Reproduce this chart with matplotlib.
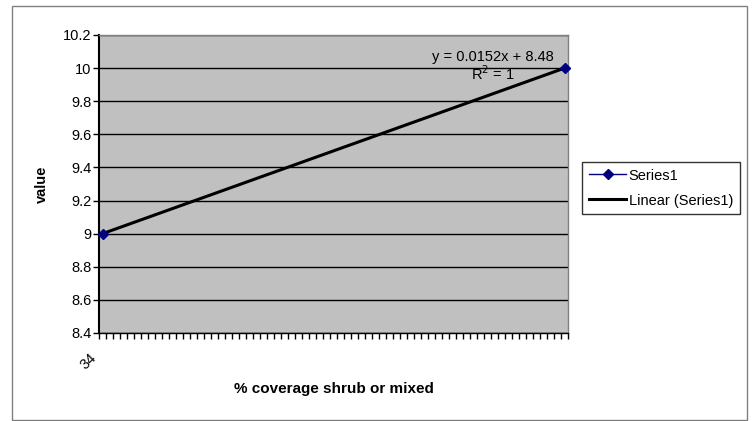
import numpy as np
import matplotlib
matplotlib.use("Agg")
import matplotlib.pyplot as plt
from matplotlib.patches import Rectangle
from matplotlib.lines import Line2D

# category axis runs over every integer coverage value
first_category = 34
last_category = 100
categories = list(range(first_category, last_category + 1))

# observed points of Series1
x_values = [34, 100]
y_values = [9.0, 10.0]

y_ticks = [8.4, 8.6, 8.8, 9.0, 9.2, 9.4, 9.6, 9.8, 10.0, 10.2]
y_tick_labels = ["8.4", "8.6", "8.8", "9", "9.2", "9.4", "9.6", "9.8", "10", "10.2"]
x_label_shown = ["34"]

plt.rcParams["font.family"] = ["Liberation Sans", "DejaVu Sans"]
FS = 10.5

fig = plt.figure(figsize=(7.55, 4.21), dpi=100)
fig.patch.set_facecolor("white")
fig.patches.append(Rectangle((12 / 755, 1 / 421), 735 / 755, 414 / 421,
                             transform=fig.transFigure, fill=False,
                             edgecolor="#808080", linewidth=1.0))

ax = fig.add_axes([99 / 755, 1 - 333 / 421, 469 / 755, 298 / 421])
ax.set_facecolor("#C0C0C0")

# linear trendline fitted on the observed points
slope, intercept = np.polyfit(x_values, y_values, 1)
pred = np.polyval([slope, intercept], x_values)
ss_res = np.sum((np.array(y_values) - pred) ** 2)
ss_tot = np.sum((np.array(y_values) - np.mean(y_values)) ** 2)
r2 = 1 - ss_res / ss_tot
trend_x = np.array([min(x_values), max(x_values)])
trend_y = slope * trend_x + intercept

ax.plot(x_values, y_values, color="#000080", linewidth=1.0, zorder=3)
ax.plot(trend_x, trend_y, color="black", linewidth=2.2, zorder=4)
ax.plot(x_values, y_values, linestyle="none", marker="D", markersize=5.5,
        color="#000080", zorder=5, clip_on=False)

ax.set_xlim(first_category - 0.5, last_category + 0.5)
ax.set_ylim(y_ticks[0], y_ticks[-1])

ax.set_yticks(y_ticks)
ax.set_yticklabels(y_tick_labels, fontsize=FS)
ax.yaxis.grid(True, color="black", linewidth=1.0)
ax.set_axisbelow(True)

# tick marks sit between categories; only the first label is printed
ax.set_xticks([c - 0.5 for c in categories] + [last_category + 0.5])
ax.set_xticklabels([])
for cat, lbl in zip(categories, x_label_shown):
    ax.annotate(lbl, xy=(cat, 0), xycoords=ax.get_xaxis_transform(),
                xytext=(-9.8, -12.5), textcoords="offset points",
                rotation=45, ha="right", va="top", rotation_mode="anchor",
                fontsize=FS, annotation_clip=False)
ax.tick_params(axis="x", which="major", direction="out", length=4,
               width=1, color="black")
ax.tick_params(axis="y", direction="out", length=4, width=1, color="black",
               pad=1.5)

for side in ("top", "right"):
    ax.spines[side].set_color("#808080")
    ax.spines[side].set_linewidth(1.0)
ax.spines["left"].set_color("black")
ax.spines["left"].set_linewidth(1.5)
ax.spines["bottom"].set_color("black")
ax.spines["bottom"].set_linewidth(1.0)

ax.set_ylabel("value", fontsize=FS, fontweight="bold", labelpad=10)
fig.text(333.5 / 755, 1 - 389 / 421, "% coverage shrub or mixed",
         ha="center", va="center", fontsize=11, fontweight="bold")

eq = f"y = {slope:.4f}x + {intercept:.2f}"
fig.text(493 / 755, 1 - 57 / 421, eq, ha="center", va="center", fontsize=FS)
fig.text(493 / 755, 1 - 74 / 421, f"R$^2$ = {r2:.0f}", ha="center",
         va="center", fontsize=FS)

handles = [
    Line2D([], [], color="#000080", linewidth=1.0, marker="D", markersize=5.5),
    Line2D([], [], color="black", linewidth=2.2),
]
leg = fig.legend(handles, ["Series1", "Linear (Series1)"],
                 loc="upper left", bbox_to_anchor=(582 / 755, 1 - 162 / 421),
                 fontsize=FS, frameon=True, fancybox=False,
                 handlelength=2.6, handletextpad=0.15, borderpad=0.45,
                 labelspacing=0.75, borderaxespad=0)
leg.get_frame().set_edgecolor("black")
leg.get_frame().set_linewidth(1.0)

fig.savefig("out.png", dpi=100)
